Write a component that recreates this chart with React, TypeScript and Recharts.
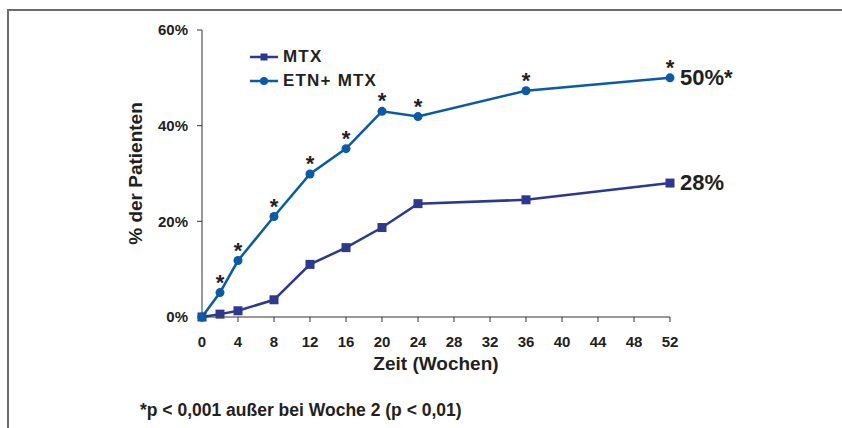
import { Label, LabelList, Line, LineChart, XAxis, YAxis } from "recharts";

const weeks = [0, 2, 4, 8, 12, 16, 20, 24, 36, 52];
const mtx = [0, 0.6, 1.3, 3.6, 11, 14.5, 18.7, 23.7, 24.5, 28];
const etnMtx = [0, 5.1, 11.8, 21, 29.9, 35.2, 43, 41.9, 47.3, 50];
const starWeeks = [2, 4, 8, 12, 16, 20, 24, 36, 52];
const xTicks = [0, 4, 8, 12, 16, 20, 24, 28, 32, 36, 40, 44, 48, 52];
const yTicks = [0, 20, 40, 60];
const mtxEndLabel = "28%";
const etnEndLabel = "50%*";

const data = weeks.map((week, i) => ({ week, mtx: mtx[i], etn: etnMtx[i] }));

const MTX_COLOR = "#2b3990";
const ETN_COLOR = "#0a5aaa";
const TEXT = "#231f20";
const FONT = '"Liberation Sans", Arial, Helvetica, sans-serif';

function SquareDot(props: any) {
  const { cx, cy, index } = props;
  return (
    <rect
      key={`sq-${index}`}
      x={cx - 4.5}
      y={cy - 4.5}
      width={9}
      height={9}
      fill={MTX_COLOR}
    />
  );
}

function StarLabel(props: any) {
  const { x, y, index } = props;
  if (!starWeeks.includes(data[index]?.week)) return null;
  return (
    <text
      x={x}
      y={y - 3}
      textAnchor="middle"
      fontFamily={FONT}
      fontWeight="bold"
      fontSize={22}
      fill={TEXT}
    >
      *
    </text>
  );
}

function endLabel(text: string) {
  return (props: any) => {
    const { x, y, index } = props;
    if (index !== data.length - 1) return null;
    return (
      <text
        x={x + 10}
        y={y + 7}
        fontFamily={FONT}
        fontWeight="bold"
        fontSize={22}
        fill={TEXT}
      >
        {text}
      </text>
    );
  };
}

function ChartLegend() {
  const rows = [
    { name: "MTX", color: MTX_COLOR, square: true },
    { name: "ETN+ MTX", color: ETN_COLOR, square: false },
  ];
  return (
    <div style={{ position: "absolute", left: 250, top: 45, fontFamily: FONT }}>
      {rows.map((r) => (
        <div
          key={r.name}
          style={{ display: "flex", alignItems: "center", height: 24 }}
        >
          <svg width={28} height={12} style={{ flexShrink: 0 }}>
            <line x1={0} y1={6} x2={28} y2={6} stroke={r.color} strokeWidth={2.5} />
            {r.square ? (
              <rect x={10.5} y={2.5} width={7} height={7} fill={r.color} />
            ) : (
              <circle cx={14} cy={6} r={4} fill={r.color} />
            )}
          </svg>
          <span
            style={{
              marginLeft: 5,
              fontWeight: "bold",
              fontSize: 17,
              letterSpacing: 1.2,
              color: TEXT,
              whiteSpace: "nowrap",
            }}
          >
            {r.name}
          </span>
        </div>
      ))}
    </div>
  );
}

export default function App() {
  const tickStyle = {
    fill: TEXT,
    fontSize: 15,
    fontWeight: "bold",
    fontFamily: FONT,
  };
  return (
    <div
      style={{
        position: "absolute",
        left: 0,
        top: 0,
        width: 842,
        height: 428,
        background: "#fff",
        overflow: "hidden",
      }}
    >
      <div
        style={{
          position: "absolute",
          left: 7,
          top: 9,
          right: 0,
          bottom: 0,
          borderTop: "2px solid #6b6b6b",
          borderLeft: "2px solid #6b6b6b",
        }}
      />
      <LineChart
        width={842}
        height={428}
        data={data}
        margin={{ top: 30, right: 172, bottom: 81, left: 142 }}
        style={{ position: "absolute", left: 0, top: 0 }}
      >
        <XAxis
          dataKey="week"
          type="number"
          domain={[0, 52]}
          ticks={xTicks}
          interval={0}
          height={30}
          tickSize={5}
          tickMargin={14}
          stroke="#333"
          tick={tickStyle}
        >
          <Label
            content={(p: any) => {
              const vb = p.viewBox;
              return (
                <text
                  x={vb.x + vb.width / 2}
                  y={vb.y + 53}
                  textAnchor="middle"
                  fontFamily={FONT}
                  fontWeight="bold"
                  fontSize={19}
                  fill={TEXT}
                >
                  Zeit (Wochen)
                </text>
              );
            }}
          />
        </XAxis>
        <YAxis
          type="number"
          domain={[0, 60]}
          ticks={yTicks}
          width={60}
          tickSize={5}
          tickMargin={9}
          stroke="#333"
          tick={tickStyle}
          tickFormatter={(v: number) => `${v}%`}
        >
          <Label
            content={(p: any) => {
              const vb = p.viewBox;
              const cy = vb.y + vb.height / 2;
              return (
                <text
                  transform={`translate(142, ${cy}) rotate(-90)`}
                  textAnchor="middle"
                  fontFamily={FONT}
                  fontWeight="bold"
                  fontSize={19}
                  fill={TEXT}
                >
                  % der Patienten
                </text>
              );
            }}
          />
        </YAxis>
        <Line
          dataKey="mtx"
          name="MTX"
          stroke={MTX_COLOR}
          strokeWidth={2.5}
          dot={SquareDot}
          activeDot={false}
          isAnimationActive={false}
        >
          <LabelList dataKey="mtx" content={endLabel(mtxEndLabel)} />
        </Line>
        <Line
          dataKey="etn"
          name="ETN+ MTX"
          stroke={ETN_COLOR}
          strokeWidth={2.5}
          dot={{ r: 4.5, fill: ETN_COLOR, stroke: ETN_COLOR, strokeWidth: 0 }}
          activeDot={false}
          isAnimationActive={false}
        >
          <LabelList dataKey="etn" content={StarLabel} />
          <LabelList dataKey="etn" content={endLabel(etnEndLabel)} />
        </Line>
      </LineChart>
      <ChartLegend />
      <div
        style={{
          position: "absolute",
          left: 140,
          top: 400,
          fontFamily: FONT,
          fontWeight: "bold",
          fontSize: 17.5,
          color: TEXT,
          whiteSpace: "nowrap",
        }}
      >
        *p &lt; 0,001 außer bei Woche 2 (p &lt; 0,01)
      </div>
    </div>
  );
}
